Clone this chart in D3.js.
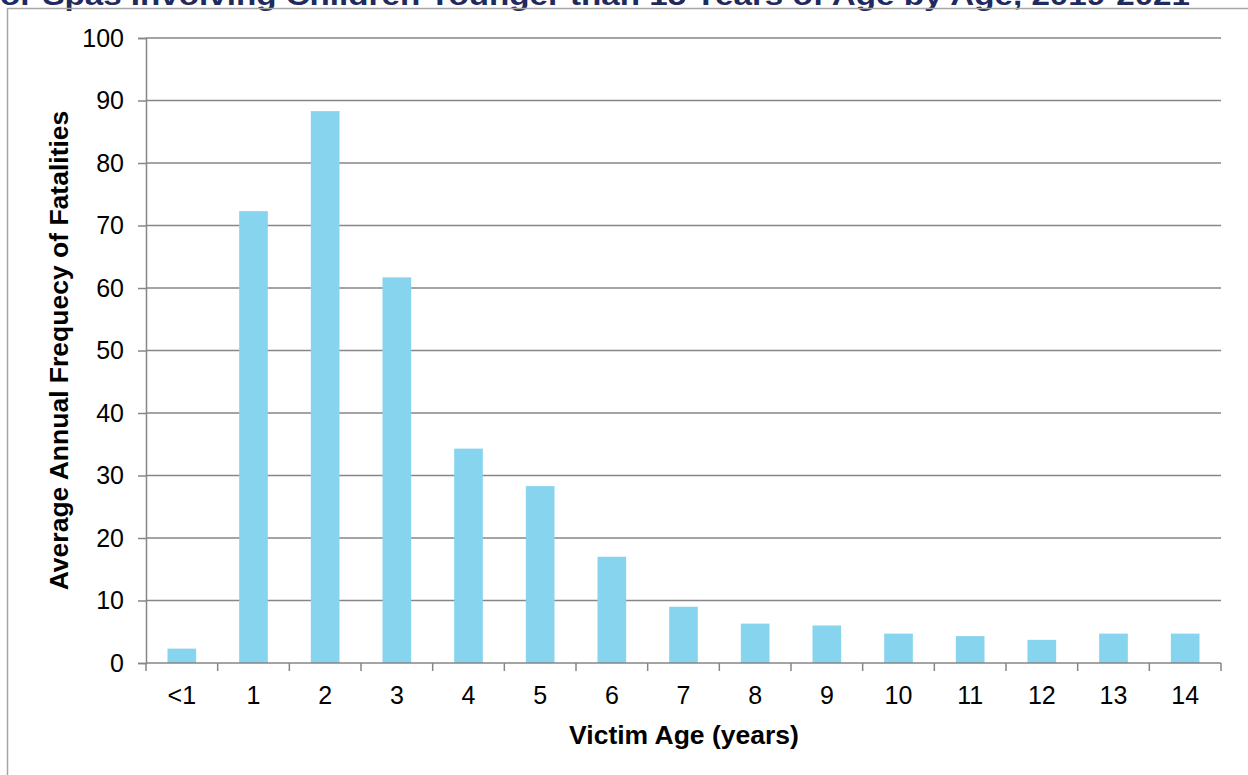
<!DOCTYPE html>
<html>
<head>
<meta charset="utf-8">
<script src="https://cdn.jsdelivr.net/npm/d3@7"></script>
<style>
  body { margin: 0; background: #fff; }
  svg { display: block; font-family: "Liberation Sans", Arial, sans-serif; }
</style>
</head>
<body>
<svg id="chart"></svg>
<script>
// data (3-year averages)
const ages = ["<1", "1", "2", "3", "4", "5", "6", "7", "8", "9", "10", "11", "12", "13", "14"];
const fatalities = [2.3, 72.3, 88.3, 61.7, 34.3, 28.3, 17.0, 9.0, 6.3, 6.0, 4.7, 4.3, 3.7, 4.7, 4.7];
const yTicks = [0, 10, 20, 30, 40, 50, 60, 70, 80, 90, 100];

const width = 1248, height = 775;
const margin = { top: 38, right: 27, bottom: 112, left: 146 };

const svg = d3.select("#chart").attr("width", width).attr("height", height);

// clipped title line from the page above
svg.append("text")
  .attr("x", 0)
  .attr("y", 5)
  .attr("textLength", 1190)
  .attr("lengthAdjust", "spacingAndGlyphs")
  .style("font-size", "27px")
  .style("font-weight", "bold")
  .style("fill", "#1f2a5e")
  .text("or Spas Involving Children Younger than 15 Years of Age by Age, 2019-2021");

// chart frame
svg.append("path")
  .attr("d", `M7.5,${height} V8.5 H${width}`)
  .attr("fill", "none")
  .attr("stroke", "#a6a6a6")
  .attr("stroke-width", 1.5);

const x = d3.scaleBand()
  .domain(ages)
  .range([margin.left, width - margin.right])
  .paddingInner(0.6)
  .paddingOuter(0.3);

const y = d3.scaleLinear()
  .domain([0, 100])
  .range([height - margin.bottom, margin.top]);

// gridlines + y axis
const yAxis = svg.append("g")
  .attr("transform", `translate(${margin.left},0)`)
  .call(d3.axisLeft(y).tickValues(yTicks).tickSize(8).tickPadding(14));
yAxis.select(".domain").attr("stroke", "#868686").attr("stroke-width", 1.5);
yAxis.selectAll(".tick line").attr("stroke", "#868686").attr("stroke-width", 1.5);
yAxis.selectAll(".tick text").style("font-size", "25px").attr("fill", "#000");

svg.append("g")
  .selectAll("line")
  .data(yTicks.filter(d => d > 0))
  .join("line")
  .attr("x1", margin.left)
  .attr("x2", width - margin.right)
  .attr("y1", d => y(d))
  .attr("y2", d => y(d))
  .attr("stroke", "#868686")
  .attr("stroke-width", 1.5);

// bars
svg.append("g")
  .selectAll("rect")
  .data(fatalities)
  .join("rect")
  .attr("x", (d, i) => x(ages[i]))
  .attr("y", d => y(d))
  .attr("width", x.bandwidth())
  .attr("height", d => y(0) - y(d))
  .attr("fill", "#87d4ef");

// x axis: ticks at category boundaries
const step = x.step();
const boundaries = d3.range(ages.length + 1).map(i => margin.left + i * step);
const xg = svg.append("g");
xg.append("line")
  .attr("x1", margin.left)
  .attr("x2", width - margin.right)
  .attr("y1", y(0))
  .attr("y2", y(0))
  .attr("stroke", "#868686")
  .attr("stroke-width", 1.5);
xg.selectAll("line.tk")
  .data(boundaries)
  .join("line")
  .attr("class", "tk")
  .attr("x1", d => d)
  .attr("x2", d => d)
  .attr("y1", y(0))
  .attr("y2", y(0) + 8)
  .attr("stroke", "#868686")
  .attr("stroke-width", 1.5);
xg.selectAll("text")
  .data(ages)
  .join("text")
  .attr("x", d => x(d) + x.bandwidth() / 2)
  .attr("y", y(0) + 41)
  .attr("text-anchor", "middle")
  .style("font-size", "25px")
  .text(d => d);

// axis titles
svg.append("text")
  .attr("x", 684)
  .attr("y", 744)
  .attr("text-anchor", "middle")
  .style("font-size", "26.5px")
  .style("font-weight", "bold")
  .text("Victim Age (years)");

svg.append("text")
  .attr("transform", `translate(68,${(margin.top + y(0)) / 2}) rotate(-90)`)
  .attr("text-anchor", "middle")
  .style("font-size", "26.5px")
  .style("font-weight", "bold")
  .text("Average Annual Frequecy of Fatalities");
</script>
</body>
</html>
